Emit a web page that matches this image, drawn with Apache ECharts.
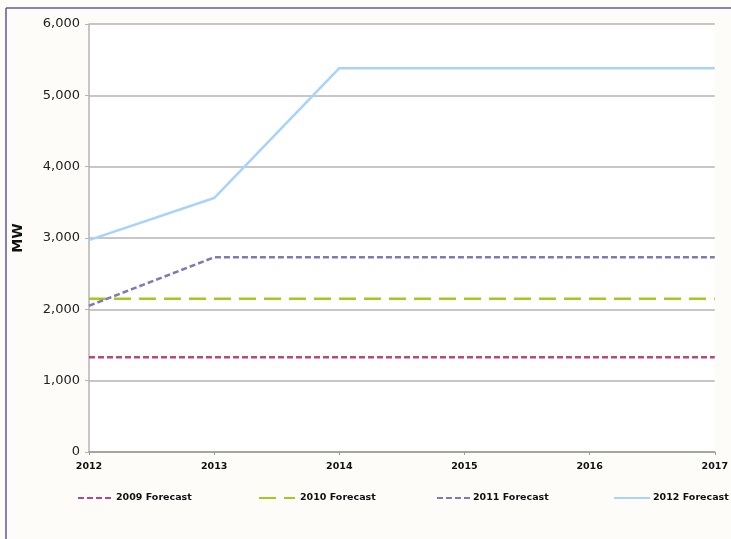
<!DOCTYPE html>
<html>
<head>
<meta charset="utf-8">
<script src="https://cdn.jsdelivr.net/npm/echarts@6/dist/echarts.min.js"></script>
<style>
  html, body { margin: 0; padding: 0; background: #fdfcf8; }
  #chart { width: 731px; height: 539px; }
</style>
</head>
<body>
<div id="chart"></div>
<script>
// Forecast capacity (MW) by year
const years = ['2012', '2013', '2014', '2015', '2016', '2017'];
const forecast2009 = [1330, 1330, 1330, 1330, 1330, 1330];
const forecast2010 = [2150, 2150, 2150, 2150, 2150, 2150];
const forecast2011 = [2050, 2730, 2730, 2730, 2730, 2730];
const forecast2012 = [2970, 3560, 5380, 5380, 5380, 5380];
const seriesNames = ['2009 Forecast', '2010 Forecast', '2011 Forecast', '2012 Forecast'];

const chart = echarts.init(document.getElementById('chart'), null, { renderer: 'canvas' });

const font = "'DejaVu Sans', sans-serif";

function lineSeries(name, data, color, type, width) {
  return {
    name: name,
    type: 'line',
    data: data,
    symbol: 'none',
    lineStyle: { color: color, width: width, type: type },
    itemStyle: { color: color },
    emphasis: { disabled: true },
    animation: false
  };
}

// One legend per series so each entry sits in its own column
const legendLefts = [77, 258, 436, 613];
const legendTextShift = [-3, 0, -5, -2];
const legends = seriesNames.map((n, i) => ({
  data: [n],
  left: legendLefts[i],
  top: 493,
  padding: 0,
  itemWidth: 36,
  itemHeight: 10,
  itemGap: 0,
  itemStyle: { opacity: 0 },
  textStyle: {
    fontFamily: font, fontSize: 9.5, fontWeight: 'bold', color: '#111',
    padding: [0, 0, 0, legendTextShift[i]]
  },
  selectedMode: false
}));

chart.setOption({
  backgroundColor: '#fdfcf8',
  animation: false,
  grid: {
    left: 89, top: 24, right: 12, bottom: 87,
    show: true, backgroundColor: '#ffffff', borderWidth: 0
  },
  legend: legends,
  xAxis: {
    type: 'category',
    data: years,
    boundaryGap: false,
    axisLine: { lineStyle: { color: '#9a9a9a', width: 1.5 } },
    axisTick: { show: true, alignWithLabel: true, length: 3, lineStyle: { color: '#9a9a9a' } },
    axisLabel: { fontFamily: font, fontSize: 9.5, fontWeight: 'bold', color: '#111', margin: 10 },
    splitLine: { show: false }
  },
  yAxis: {
    type: 'value',
    min: 0, max: 6000, interval: 1000,
    name: 'MW',
    nameLocation: 'middle',
    nameGap: 64,
    nameRotate: 90,
    nameTextStyle: { fontFamily: font, fontSize: 14, fontWeight: 'bold', color: '#111' },
    axisLine: { show: true, lineStyle: { color: '#b5b5b5', width: 1.5 } },
    axisTick: { show: true, length: 4, lineStyle: { color: '#b5b5b5' } },
    axisLabel: {
      fontFamily: font, fontSize: 13, color: '#222', margin: 9,
      formatter: v => v.toLocaleString('en-US')
    },
    splitLine: { show: true, lineStyle: { color: '#b5b5b5', width: 1.5 } }
  },
  series: [
    lineSeries(seriesNames[0], forecast2009, '#b5487f', [6, 3], 2.5),
    lineSeries(seriesNames[1], forecast2010, '#a6c81e', [17, 8], 2.5),
    lineSeries(seriesNames[2], forecast2011, '#7c7cb2', [6, 3], 2.5),
    lineSeries(seriesNames[3], forecast2012, '#a9d3fa', 'solid', 2.5)
  ],
  graphic: [
    { type: 'line', shape: { x1: 6, y1: 8, x2: 731, y2: 8 }, style: { stroke: '#5d5b9c', lineWidth: 1.5 }, silent: true },
    { type: 'line', shape: { x1: 6, y1: 8, x2: 6, y2: 539 }, style: { stroke: '#5d5b9c', lineWidth: 1.5 }, silent: true }
  ]
});
</script>
</body>
</html>
